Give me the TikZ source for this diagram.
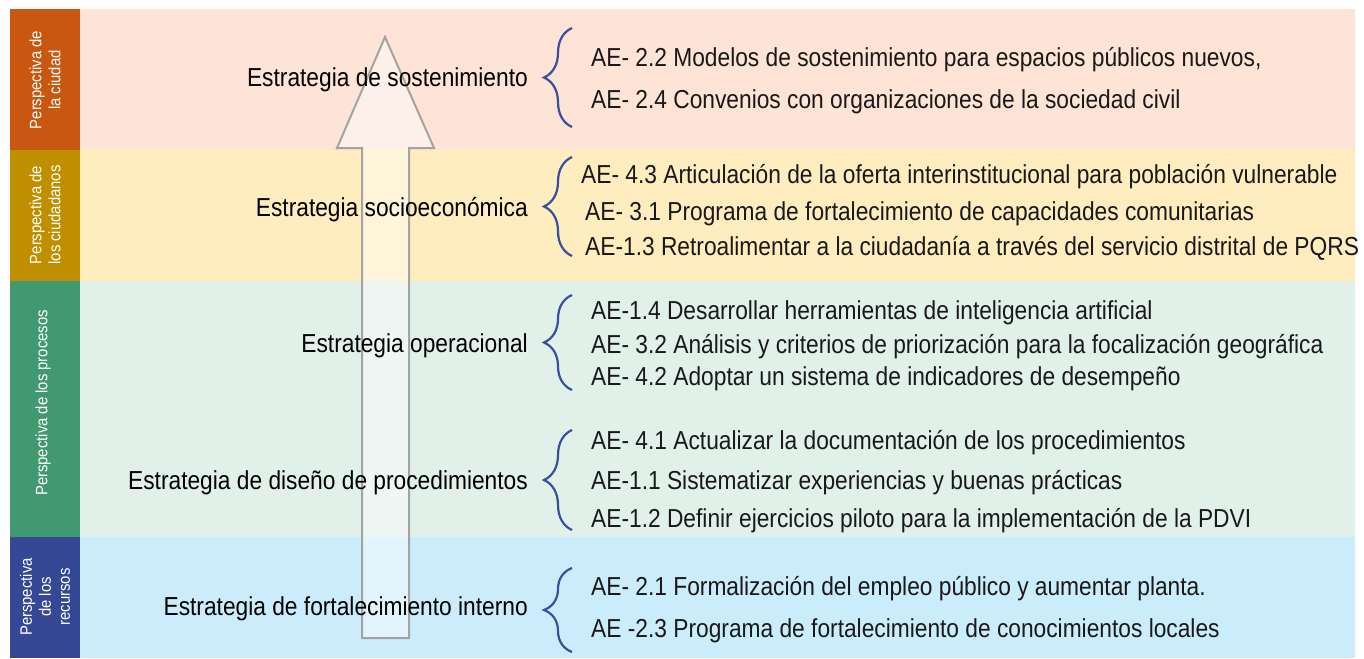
\documentclass[tikz,border=0pt]{standalone}
\usepackage{fontspec}
\setmainfont[FakeStretch=0.875]{Liberation Sans}
\newfontfamily\sidefont[FakeStretch=0.9]{Liberation Sans}
\usetikzlibrary{decorations.pathreplacing}
\definecolor{orD}{HTML}{C9570F}
\definecolor{yeD}{HTML}{BF8F00}
\definecolor{grD}{HTML}{419970}
\definecolor{blD}{HTML}{354896}
\definecolor{orL}{HTML}{FDE4D7}
\definecolor{yeL}{HTML}{FFEDBF}
\definecolor{grL}{HTML}{E1F1EA}
\definecolor{blL}{HTML}{CBEDFB}
\definecolor{brc}{HTML}{3B4FA0}
\definecolor{arr}{HTML}{A3A3A3}
\tikzset{
  strat/.style={anchor=east, inner sep=0pt, text height=18.6pt, text depth=0pt, font=\fontsize{26}{30}\selectfont, text=black},
  item/.style={anchor=west, inner sep=0pt, text height=18.6pt, text depth=0pt, font=\fontsize{26}{30}\selectfont, text=black!90},
  side/.style={rotate=90, align=center, text=white, inner sep=0pt, font=\sidefont\fontsize{16.5}{19}\selectfont},
  bracebox/.style={draw=brc, line width=2.2pt, decorate, decoration={brace, amplitude=28pt, aspect=0.5}},
}
\begin{document}
\begin{tikzpicture}[x=1pt, y=-1pt]
\useasboundingbox (0,0) rectangle (1364,658);
% bands
\fill[orL] (80,9) rectangle (1355,150);
\fill[yeL] (80,150) rectangle (1355,281);
\fill[grL] (80,281) rectangle (1355,537);
\fill[blL] (80,537) rectangle (1355,658);
\fill[orD] (10,9) rectangle (80,150);
\fill[yeD] (10,150) rectangle (80,281);
\fill[grD] (10,281) rectangle (80,537);
\fill[blD] (10,537) rectangle (80,658);
% side labels
\node[side] (p1) at (45,80) {Perspectiva de\\la ciudad};
\node[side] (p2) at (45,215) {Perspectiva de\\los ciudadanos};
\node[side] (p3) at (43,403) {Perspectiva de los procesos};
\node[side] (p4) at (45,597) {Perspectiva\\de los\\recursos};
% arrow
\draw[arr, line width=2pt, fill=white, fill opacity=0.45, line join=miter]
  (362,638) -- (362,148) -- (337,148) -- (385,37) -- (434,148) -- (409,148) -- (409,638) -- cycle;
% strategies
\node[strat] (s1) at (528,77) {Estrategia de sostenimiento};
\node[strat] (s2) at (528,207) {Estrategia socioeconómica};
\node[strat] (s3) at (528,343) {Estrategia operacional};
\node[strat] (s4) at (528,480) {Estrategia de diseño de procedimientos};
\node[strat] (s5) at (528,606) {Estrategia de fortalecimiento interno};
% items
\node[item] (a11) at (591,57) {AE- 2.2 Modelos de sostenimiento para espacios públicos nuevos,};
\node[item] (a12) at (591,99) {AE- 2.4 Convenios con organizaciones de la sociedad civil};
\node[item] (a21) at (581,174) {AE- 4.3 Articulación de la oferta interinstitucional para población vulnerable};
\node[item] (a22) at (585,211) {AE- 3.1 Programa de fortalecimiento de capacidades comunitarias};
\node[item] (a23) at (585,246) {AE-1.3 Retroalimentar a la ciudadanía a través del servicio distrital de PQRS};
\node[item] (a31) at (591,310) {AE-1.4 Desarrollar herramientas de inteligencia artificial};
\node[item] (a32) at (591,344) {AE- 3.2 Análisis y criterios de priorización para la focalización geográfica};
\node[item] (a33) at (591,376) {AE- 4.2 Adoptar un sistema de indicadores de desempeño};
\node[item] (a41) at (591,440) {AE- 4.1 Actualizar la documentación de los procedimientos};
\node[item] (a42) at (591,480) {AE-1.1 Sistematizar experiencias y buenas prácticas};
\node[item] (a43) at (591,518) {AE-1.2 Definir ejercicios piloto para la implementación de la PDVI};
\node[item] (a51) at (591,586) {AE- 2.1 Formalización del empleo público y aumentar planta.};
\node[item] (a52) at (591,628) {AE -2.3 Programa de fortalecimiento de conocimientos locales};
% braces
\coordinate (b1t) at (572,28);  \coordinate (b1b) at (572,127);
\coordinate (b2t) at (572,157); \coordinate (b2b) at (572,256);
\coordinate (b3t) at (572,295); \coordinate (b3b) at (572,390);
\coordinate (b4t) at (572,430); \coordinate (b4b) at (572,530);
\coordinate (b5t) at (572,568); \coordinate (b5b) at (572,652);
\draw[bracebox] (b1b) -- (b1t);
\draw[bracebox] (b2b) -- (b2t);
\draw[bracebox] (b3b) -- (b3t);
\draw[bracebox] (b4b) -- (b4t);
\draw[bracebox] (b5b) -- (b5t);
\end{tikzpicture}
\end{document}
